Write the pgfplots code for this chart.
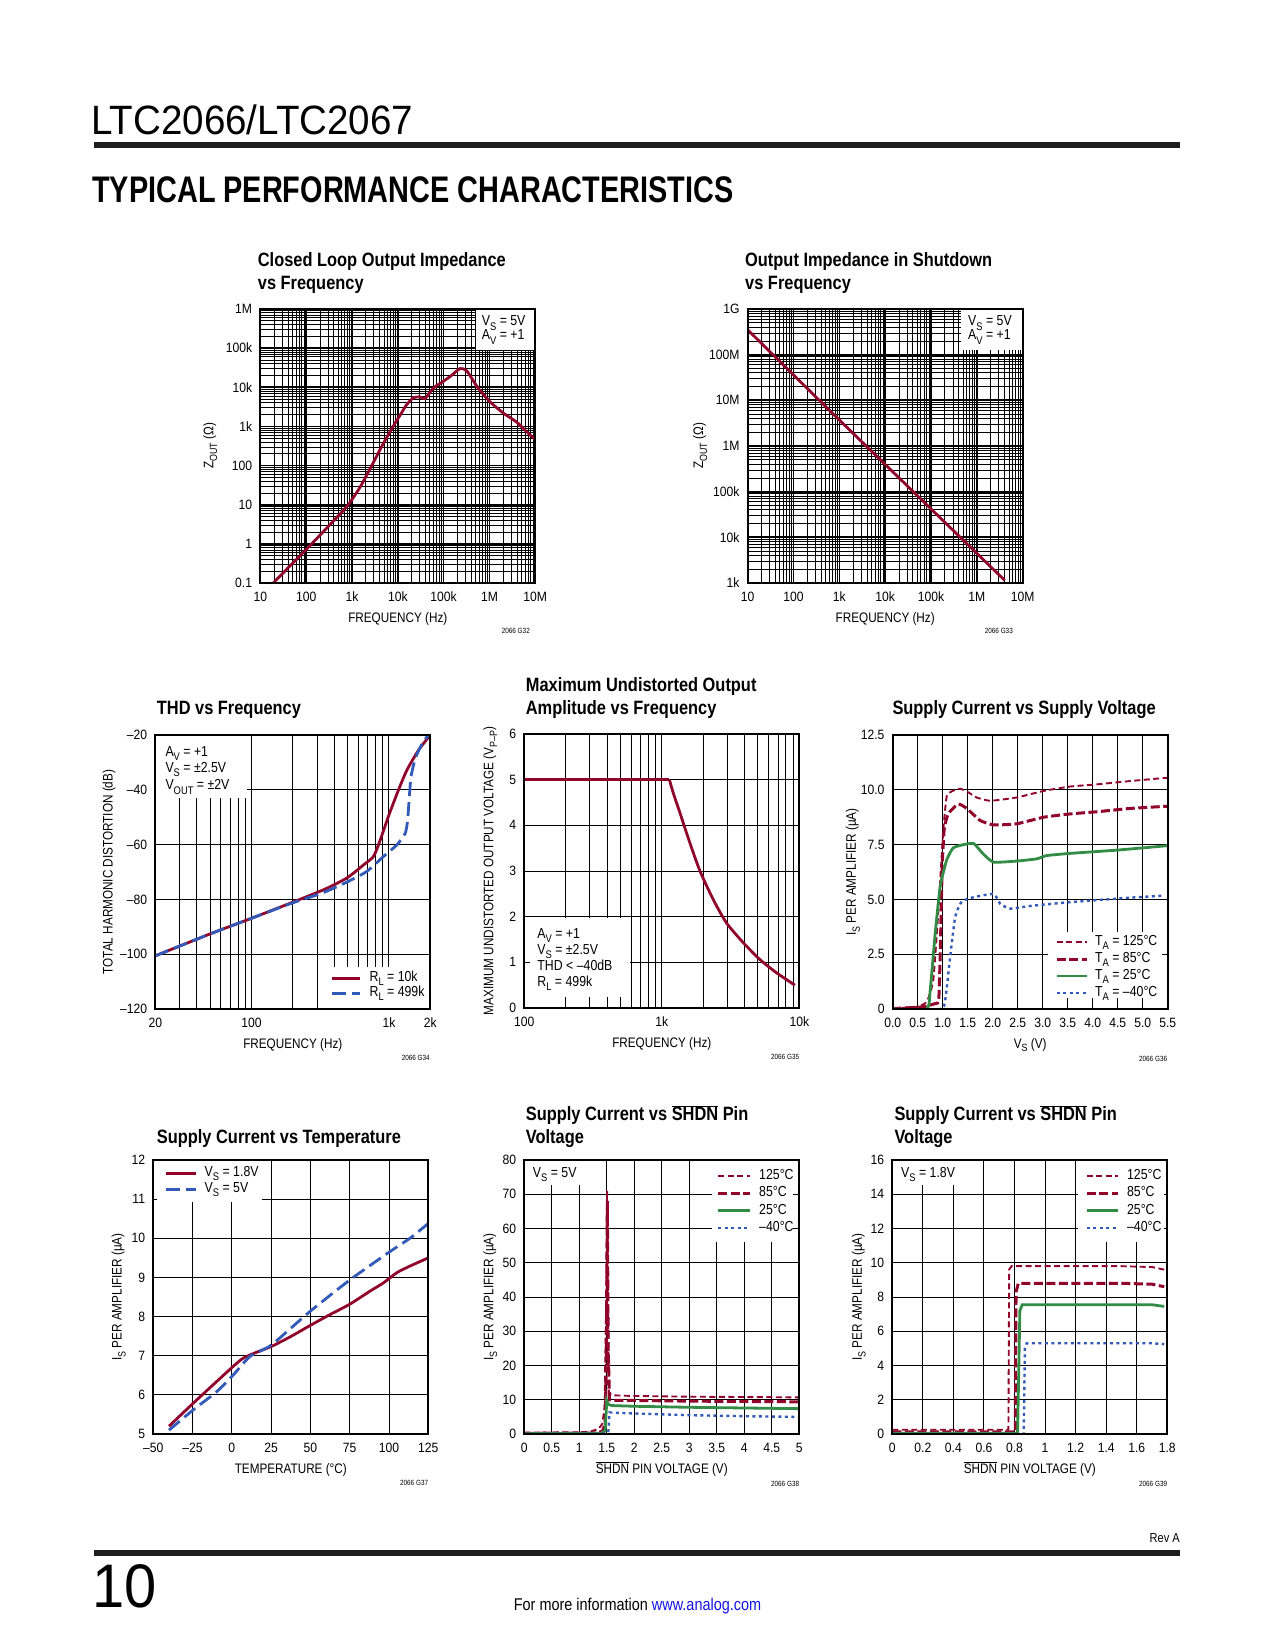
\documentclass[border=0pt]{standalone}
\usepackage{fontspec}
\setmainfont{Liberation Sans}[FakeStretch=0.85]
\newfontfamily\tickfont{Liberation Sans}[FakeStretch=0.9]
\newfontfamily\plainfont{Liberation Sans}[FakeStretch=0.94]
\newfontfamily\headfont{Liberation Sans}[FakeStretch=0.78]
\usepackage{pgfplots}
\pgfplotsset{compat=1.18}
\definecolor{dsred}{RGB}{145,5,45}
\definecolor{dsblue}{RGB}{50,90,185}
\definecolor{dsgreen}{RGB}{50,140,70}
\definecolor{dslink}{RGB}{20,20,230}
\newcommand\tickf{\tickfont\fontsize{13.5pt}{16pt}\selectfont}
\newcommand\labf{\fontsize{13.8pt}{16pt}\selectfont}
\newcommand\legf{\fontsize{14.5pt}{17pt}\selectfont}
\newcommand\titf{\bfseries\fontsize{19.3pt}{23pt}\selectfont}
\newcommand\notef{\fontsize{7.5pt}{9pt}\selectfont}
\newcommand\sub[1]{\raisebox{-0.28em}{\scalebox{0.76}{#1}}}
\newcommand\ovl[1]{$\overline{\mbox{#1}}$}
\tikzset{dsframe/.style={line width=1.8pt, black}}
\pgfplotsset{
  ds/.style={
    scale only axis, width=275pt, height=274pt, anchor=north west,
    axis line style={line width=1.8pt, black},
    major tick length=0pt, minor tick length=0pt,
    tick style={draw=none},
    grid=both,
    major grid style={line width=1pt, black},
    minor grid style={line width=1pt, black},
    clip mode=individual,
    xticklabel style={font=\tickf, anchor=base, inner sep=0pt, yshift=-18.5pt},
    yticklabel style={font=\tickf, anchor=east, inner sep=0pt, xshift=-8pt},
    xlabel style={font=\labf, at={(axis description cs:0.5,0)}, anchor=base, yshift=-39pt, inner sep=0pt},
    ylabel style={font=\labf, anchor=base, inner sep=0pt},
    legend style={draw=none, fill=none, inner sep=0pt, font=\legf, column sep=6pt,
      nodes={inner sep=0.9pt, text height=11pt, text depth=4pt}},
    legend cell align=left,
    legend image code/.code={\draw[##1] (0pt,0pt) -- (30pt,0pt);},
    /pgf/number format/assume math mode=true,
  },
  xdec/.style={minor xtick={2e1,3e1,4e1,5e1,6e1,7e1,8e1,9e1,2e2,3e2,4e2,5e2,6e2,7e2,8e2,9e2,2e3,3e3,4e3,5e3,6e3,7e3,8e3,9e3,2e4,3e4,4e4,5e4,6e4,7e4,8e4,9e4,2e5,3e5,4e5,5e5,6e5,7e5,8e5,9e5,2e6,3e6,4e6,5e6,6e6,7e6,8e6,9e6}},
  p125/.style={dsred, line width=1.9pt, dash pattern=on 6pt off 3.5pt},
  p85/.style={dsred, line width=3pt, dash pattern=on 9pt off 3.5pt},
  p25/.style={dsgreen, line width=2.8pt},
  pm40/.style={dsblue, line width=2.4pt, dash pattern=on 3pt off 3.5pt},
}
\begin{document}
\begin{tikzpicture}
\useasboundingbox (0pt,0pt) rectangle (1275pt,-1650pt);
\fill[white] (0pt,0pt) rectangle (1275pt,-1650pt);
% ---------- page header / footer ----------
\node[anchor=base west, inner sep=0pt, font=\plainfont\fontsize{41pt}{45pt}\selectfont] at (91pt,-134.7pt) {LTC2066/LTC2067};
\fill[black!88] (93.6pt,-141.5pt) rectangle (1180pt,-148pt);
\node[anchor=base west, inner sep=0pt, font=\headfont\bfseries\fontsize{37pt}{40pt}\selectfont] at (92pt,-202pt) {TYPICAL PERFORMANCE CHARACTERISTICS};
\node[anchor=base east, inner sep=0pt, font=\fontsize{13pt}{15pt}\selectfont] at (1180pt,-1542pt) {Rev A};
\fill[black!88] (93.6pt,-1549.5pt) rectangle (1180pt,-1556pt);
\node[anchor=base west, inner sep=0pt, font=\plainfont\fontsize{61.5pt}{64pt}\selectfont] at (92pt,-1607.5pt) {10};
\node[anchor=base, inner sep=0pt, font=\fontsize{17pt}{19pt}\selectfont] at (637.5pt,-1610pt) {For more information \textcolor{dslink}{www.analog.com}};
% ---------- titles ----------
\node[anchor=base west, inner sep=0pt, font=\titf] at (257.7pt,-266.7pt) {Closed Loop Output Impedance};
\node[anchor=base west, inner sep=0pt, font=\titf] at (257.7pt,-289pt) {vs Frequency};
\node[anchor=base west, inner sep=0pt, font=\titf] at (745pt,-266.7pt) {Output Impedance in Shutdown};
\node[anchor=base west, inner sep=0pt, font=\titf] at (745pt,-289pt) {vs Frequency};
\node[anchor=base west, inner sep=0pt, font=\titf] at (156.7pt,-714.3pt) {THD vs Frequency};
\node[anchor=base west, inner sep=0pt, font=\titf] at (525.7pt,-691.7pt) {Maximum Undistorted Output};
\node[anchor=base west, inner sep=0pt, font=\titf] at (525.7pt,-714pt) {Amplitude vs Frequency};
\node[anchor=base west, inner sep=0pt, font=\titf] at (892.3pt,-714.3pt) {Supply Current vs Supply Voltage};
\node[anchor=base west, inner sep=0pt, font=\titf] at (156.7pt,-1143.3pt) {Supply Current vs Temperature};
\node[anchor=base west, inner sep=0pt, font=\titf] at (525.7pt,-1120.7pt) {Supply Current vs \ovl{SHDN} Pin};
\node[anchor=base west, inner sep=0pt, font=\titf] at (525.7pt,-1143.3pt) {Voltage};
\node[anchor=base west, inner sep=0pt, font=\titf] at (894.3pt,-1120.7pt) {Supply Current vs \ovl{SHDN} Pin};
\node[anchor=base west, inner sep=0pt, font=\titf] at (894.3pt,-1143.3pt) {Voltage};
% ---------- notes ----------
\node[anchor=base east, inner sep=0pt, font=\notef] at (530pt,-633.3pt) {2066 G32};
\node[anchor=base east, inner sep=0pt, font=\notef] at (1013pt,-633.3pt) {2066 G33};
\node[anchor=base east, inner sep=0pt, font=\notef] at (430pt,-1060.7pt) {2066 G34};
\node[anchor=base east, inner sep=0pt, font=\notef] at (799.3pt,-1059pt) {2066 G35};
\node[anchor=base east, inner sep=0pt, font=\notef] at (1167.3pt,-1061pt) {2066 G36};
\node[anchor=base east, inner sep=0pt, font=\notef] at (428.3pt,-1485.7pt) {2066 G37};
\node[anchor=base east, inner sep=0pt, font=\notef] at (799.3pt,-1486pt) {2066 G38};
\node[anchor=base east, inner sep=0pt, font=\notef] at (1167.3pt,-1486pt) {2066 G39};

% ================= Chart 1 =================
\begin{axis}[ds, xdec, at={(260.3pt,-309pt)},
  xmode=log, ymode=log, xmin=10, xmax=1e7, ymin=0.1, ymax=1e6,
  xtick={1e1,1e2,1e3,1e4,1e5,1e6,1e7},
  xticklabels={10,100,1k,10k,100k,1M,10M},
  ytick={1e-1,1e0,1e1,1e2,1e3,1e4,1e5,1e6},
  yticklabels={0.1,1,10,100,1k,10k,100k,1M},
  minor ytick={2e-1,3e-1,4e-1,5e-1,6e-1,7e-1,8e-1,9e-1,2e0,3e0,4e0,5e0,6e0,7e0,8e0,9e0,2e1,3e1,4e1,5e1,6e1,7e1,8e1,9e1,2e2,3e2,4e2,5e2,6e2,7e2,8e2,9e2,2e3,3e3,4e3,5e3,6e3,7e3,8e3,9e3,2e4,3e4,4e4,5e4,6e4,7e4,8e4,9e4,2e5,3e5,4e5,5e5,6e5,7e5,8e5,9e5},
  major grid style={line width=1.7pt, black}, minor grid style={line width=0.75pt, black},
  xlabel={FREQUENCY (Hz)}, ylabel={Z\sub{OUT} (Ω)},
  ylabel style={at={(axis description cs:-0.171,0.5)}},
]
\fill[white] (rel axis cs:0.784,0.85) rectangle (rel axis cs:1,1);
\node[anchor=base west, inner sep=0pt, font=\legf] at (rel axis cs:0.805,0.938) {V\sub{S} = 5V};
\node[anchor=base west, inner sep=0pt, font=\legf] at (rel axis cs:0.805,0.887) {A\sub{V} = +1};
\addplot[dsred, line width=2.8pt, smooth, tension=0.4] coordinates {
 (19.2,0.1) (44,0.27) (132,1) (464,4.7) (832,10) (1500,28) (2700,100) (4600,330) (7900,1000)
 (12000,2200) (15600,3600) (21800,5400) (30000,5700) (39000,5100) (59000,9400) (97000,14000)
 (148000,20000) (227000,30000) (317000,26500) (550000,10000) (1.02e6,4300) (2e6,2200)
 (3.9e6,1300) (6e6,800) (9.7e6,470)};
\draw[dsframe] (rel axis cs:0,0) rectangle (rel axis cs:1,1);
\end{axis}

% ================= Chart 2 =================
\begin{axis}[ds, xdec, at={(747.7pt,-309pt)},
  xmode=log, ymode=log, xmin=10, xmax=1e7, ymin=1e3, ymax=1e9,
  xtick={1e1,1e2,1e3,1e4,1e5,1e6,1e7},
  xticklabels={10,100,1k,10k,100k,1M,10M},
  ytick={1e3,1e4,1e5,1e6,1e7,1e8,1e9},
  yticklabels={1k,10k,100k,1M,10M,100M,1G},
  minor ytick={2e3,3e3,4e3,5e3,6e3,7e3,8e3,9e3,2e4,3e4,4e4,5e4,6e4,7e4,8e4,9e4,2e5,3e5,4e5,5e5,6e5,7e5,8e5,9e5,2e6,3e6,4e6,5e6,6e6,7e6,8e6,9e6,2e7,3e7,4e7,5e7,6e7,7e7,8e7,9e7,2e8,3e8,4e8,5e8,6e8,7e8,8e8,9e8},
  major grid style={line width=1.7pt, black}, minor grid style={line width=0.75pt, black},
  xlabel={FREQUENCY (Hz)}, ylabel={Z\sub{OUT} (Ω)},
  ylabel style={at={(axis description cs:-0.1617,0.5)}},
]
\fill[white] (rel axis cs:0.777,0.85) rectangle (rel axis cs:1,1);
\node[anchor=base west, inner sep=0pt, font=\legf] at (rel axis cs:0.801,0.938) {V\sub{S} = 5V};
\node[anchor=base west, inner sep=0pt, font=\legf] at (rel axis cs:0.801,0.887) {A\sub{V} = +1};
\addplot[dsred, line width=2.8pt] coordinates {(10,3.5e8) (1000,3.7e6) (4.06e6,1.14e3)};
\draw[dsframe] (rel axis cs:0,0) rectangle (rel axis cs:1,1);
\end{axis}

% ================= Chart 3: THD =================
\begin{axis}[ds, at={(155.3pt,-735pt)},
  xmode=log, xmin=20, xmax=2000, ymin=-120, ymax=-20,
  xtick={20,100,1000,2000}, xticklabels={20,100,1k,2k},
  minor xtick={30,40,50,60,70,80,90,200,300,400,500,600,700,800,900},
  ytick={-120,-100,-80,-60,-40,-20}, yticklabels={–120,–100,–80,–60,–40,–20},
  xlabel={FREQUENCY (Hz)}, ylabel={TOTAL HARMONIC DISTORTION (dB)},
  ylabel style={at={(axis description cs:-0.155,0.5)}},
  legend style={at={(axis description cs:0.636,0.144)}, anchor=north west, row sep=-1.8pt, column sep=7.5pt},
  legend image code/.code={\draw[#1] (0pt,0pt) -- (28pt,0pt);},
]
\fill[white] (rel axis cs:0,0.769) rectangle (rel axis cs:0.3325,1);
\fill[white] (rel axis cs:0.636,0) rectangle (rel axis cs:1,0.1544);
\node[anchor=base west, inner sep=0pt, font=\legf] at (rel axis cs:0.0364,0.923) {A\sub{V} = +1};
\node[anchor=base west, inner sep=0pt, font=\legf] at (rel axis cs:0.0364,0.8626) {V\sub{S} = ±2.5V};
\node[anchor=base west, inner sep=0pt, font=\legf] at (rel axis cs:0.0364,0.7995) {V\sub{OUT} = ±2V};
\addplot[dsred, line width=2.8pt, smooth, tension=0.4] coordinates {
 (20,-100.6) (50,-92.6) (100,-86.9) (191,-81.4) (334,-76.5) (494,-72.2)
 (654,-67.4) (773,-64.3) (865,-58.3) (1000,-49.2) (1175,-40) (1352,-32.8) (1644,-25.5) (2000,-20)};
\addlegendentry{R\sub{L} = 10k}
\addplot[dsblue, line width=2.8pt, dash pattern=on 14pt off 6pt, smooth, tension=0.3] coordinates {
 (20,-100.6) (50,-92.6) (100,-86.9) (191,-81.6) (334,-77.5) (494,-73.7)
 (691,-69.8) (914,-64.3) (1143,-60.1) (1316,-55.8) (1369,-51) (1408,-42.5) (1447,-35.2)
 (1556,-28.5) (1747,-23) (1940,-20)};
\addlegendentry{R\sub{L} = 499k}
\draw[dsframe] (rel axis cs:0,0) rectangle (rel axis cs:1,1);
\end{axis}

% ================= Chart 4: Max undistorted =================
\begin{axis}[ds, at={(524.3pt,-734pt)},
  xmode=log, xmin=100, xmax=10000, ymin=0, ymax=6,
  xtick={100,1000,10000}, xticklabels={100,1k,10k},
  minor xtick={200,300,400,500,600,700,800,900,2000,3000,4000,5000,6000,7000,8000,9000},
  ytick={0,1,2,3,4,5,6}, yticklabels={0,1,2,3,4,5,6},
  xlabel={FREQUENCY (Hz)}, ylabel={MAXIMUM UNDISTORTED OUTPUT VOLTAGE (V\sub{P–P})},
  ylabel style={at={(axis description cs:-0.1127,0.5)}},
]
\fill[white] (rel axis cs:0.0206,0.0415) rectangle (rel axis cs:0.384,0.33);
\node[anchor=base west, inner sep=0pt, font=\legf] at (rel axis cs:0.047,0.2526) {A\sub{V} = +1};
\node[anchor=base west, inner sep=0pt, font=\legf] at (rel axis cs:0.047,0.1955) {V\sub{S} = ±2.5V};
\node[anchor=base west, inner sep=0pt, font=\legf] at (rel axis cs:0.047,0.1373) {THD < –40dB};
\node[anchor=base west, inner sep=0pt, font=\legf] at (rel axis cs:0.047,0.080) {R\sub{L} = 499k};
\addplot[dsred, line width=2.8pt] coordinates {(100,5) (1135,5)};
\addplot[dsred, line width=2.8pt, smooth, tension=0.4] coordinates {
 (1135,5) (1214,4.7) (1356,4.27) (1603,3.61) (1895,3.0) (2370,2.37) (2960,1.86) (3915,1.43)
 (5175,1.06) (6840,0.77) (9290,0.5)};
\draw[dsframe] (rel axis cs:0,0) rectangle (rel axis cs:1,1);
\end{axis}

% ================= Chart 5: Is vs Vs =================
\begin{axis}[ds, at={(892.7pt,-735pt)},
  xmin=0, xmax=5.5, ymin=0, ymax=12.5,
  xtick={0,0.5,1,1.5,2,2.5,3,3.5,4,4.5,5,5.5},
  xticklabels={0.0,0.5,1.0,1.5,2.0,2.5,3.0,3.5,4.0,4.5,5.0,5.5},
  ytick={0,2.5,5,7.5,10,12.5}, yticklabels={0,2.5,5.0,7.5,10.0,12.5},
  xlabel={V\sub{S} (V)}, ylabel={I\sub{S} PER AMPLIFIER (µA)},
  ylabel style={at={(axis description cs:-0.1336,0.5)}},
  legend style={at={(axis description cs:0.591,0.2745)}, anchor=north west, row sep=0pt, column sep=5.8pt},
]
\fill[white] (rel axis cs:0.5665,0.04) rectangle (rel axis cs:0.98,0.2825);
\addplot[p125, smooth, tension=0.3] coordinates {
 (0,0.03) (0.48,0.1) (0.68,0.33) (0.81,1.3) (0.91,4.35) (1.01,8.1) (1.08,9.7) (1.2,9.95) (1.35,10.05)
 (1.5,9.9) (1.68,9.65) (1.95,9.5) (2.48,9.65) (3.02,9.95) (3.55,10.15) (4.09,10.25) (4.75,10.4) (5.49,10.55)};
\addlegendentry{T\sub{A} = 125°C}
\addplot[p85, smooth, tension=0.3] coordinates {
 (0,0.02) (0.6,0.1) (0.85,0.25) (0.92,0.4) (0.95,2.5) (0.99,6.5) (1.03,8.2) (1.11,8.9) (1.31,9.35)
 (1.48,9.15) (1.75,8.6) (2.02,8.4) (2.48,8.45) (3.02,8.75) (3.55,8.9) (4.09,9.0) (4.75,9.15) (5.49,9.25)};
\addlegendentry{T\sub{A} = 85°C}
\addplot[p25, smooth, tension=0.3] coordinates {
 (0,0) (0.68,0) (0.75,0.87) (0.85,3.45) (0.95,5.6) (1.08,6.8) (1.21,7.35) (1.42,7.5) (1.62,7.55)
 (1.82,7.05) (2.02,6.7) (2.48,6.75) (2.88,6.85) (3.08,7.0) (3.55,7.1) (4.49,7.25) (5.49,7.45)};
\addlegendentry{T\sub{A} = 25°C}
\addplot[pm40, smooth, tension=0.3] coordinates {
 (0,0) (0.95,0) (1.05,0.4) (1.15,2.4) (1.25,4.2) (1.38,4.9) (1.62,5.1) (2.02,5.25) (2.15,4.8)
 (2.35,4.58) (2.75,4.7) (3.42,4.85) (4.09,4.97) (4.75,5.08) (5.42,5.17)};
\addlegendentry{T\sub{A} = –40°C}
\draw[dsframe] (rel axis cs:0,0) rectangle (rel axis cs:1,1);
\end{axis}

% ================= Chart 6: Is vs Temperature =================
\begin{axis}[ds, at={(153.3pt,-1160pt)},
  xmin=-50, xmax=125, ymin=5, ymax=12,
  xtick={-50,-25,0,25,50,75,100,125}, xticklabels={–50,–25,0,25,50,75,100,125},
  ytick={5,6,7,8,9,10,11,12}, yticklabels={5,6,7,8,9,10,11,12},
  xlabel={TEMPERATURE (°C)}, ylabel={I\sub{S} PER AMPLIFIER (µA)},
  ylabel style={at={(axis description cs:-0.115,0.5)}},
  legend style={at={(axis description cs:0.039,0.9825)}, anchor=north west, row sep=-0.8pt, column sep=6.8pt},
]
\fill[white] (rel axis cs:0.012,0.848) rectangle (rel axis cs:0.395,1);
\addplot[dsred, line width=2.8pt, smooth, tension=0.4] coordinates {
 (-40,5.2) (-24.5,5.79) (-9.7,6.34) (0.9,6.73) (7.3,6.94) (15.8,7.09) (25.3,7.24) (37,7.48) (49.7,7.77)
 (62.4,8.05) (75.2,8.32) (87.9,8.65) (96.4,8.86) (104.9,9.12) (113.3,9.29) (125,9.5)};
\addlegendentry{V\sub{S} = 1.8V}
\addplot[dsblue, line width=2.8pt, dash pattern=on 14pt off 6pt, smooth, tension=0.4] coordinates {
 (-40,5.1) (-24.5,5.62) (-9.7,6.08) (0.9,6.51) (11.5,6.98) (25.3,7.28) (49.7,8.13) (75.2,8.94)
 (100.6,9.66) (113.3,10.0) (125,10.38)};
\addlegendentry{V\sub{S} = 5V}
\draw[dsframe] (rel axis cs:0,0) rectangle (rel axis cs:1,1);
\end{axis}

% ================= Chart 7: SHDN, Vs=5V =================
\begin{axis}[ds, at={(524.3pt,-1160pt)},
  xmin=0, xmax=5, ymin=0, ymax=80,
  xtick={0,0.5,1,1.5,2,2.5,3,3.5,4,4.5,5}, xticklabels={0,0.5,1,1.5,2,2.5,3,3.5,4,4.5,5},
  ytick={0,10,20,30,40,50,60,70,80}, yticklabels={0,10,20,30,40,50,60,70,80},
  xlabel={\ovl{SHDN} PIN VOLTAGE (V)}, ylabel={I\sub{S} PER AMPLIFIER (µA)},
  ylabel style={at={(axis description cs:-0.1127,0.5)}},
  legend style={at={(axis description cs:0.6996,0.973)}, anchor=north west, row sep=0.5pt, column sep=6.8pt},
  legend image code/.code={\draw[#1] (0pt,0pt) -- (31.6pt,0pt);},
]
\fill[white] (rel axis cs:0,0.909) rectangle (rel axis cs:0.215,1);
\fill[white] (rel axis cs:0.681,0.702) rectangle (rel axis cs:0.978,1);
\node[anchor=base west, inner sep=0pt, font=\legf] at (rel axis cs:0.0306,0.9369) {V\sub{S} = 5V};
\addplot[p125] coordinates {
 (0,0.4) (1.0,0.5) (1.2,0.7) (1.35,1.5) (1.42,3) (1.46,8) (1.49,40) (1.505,71) (1.52,40) (1.54,12)
 (1.6,11.3) (2,11.1) (3,10.9) (4,10.8) (5,10.7)};
\addlegendentry{125°C}
\addplot[p85] coordinates {
 (0,0.2) (1.3,0.3) (1.42,0.8) (1.47,3) (1.49,20) (1.51,68) (1.525,25) (1.55,10) (1.6,9.8) (2,9.8)
 (3,9.6) (4,9.5) (5,9.4)};
\addlegendentry{85°C}
\addplot[p25] coordinates {
 (0,0.1) (1.4,0.2) (1.47,1) (1.5,9.8) (1.53,8.6) (1.6,8.3) (2,8.1) (3,7.8) (4,7.6) (5,7.4)};
\addlegendentry{25°C}
\addplot[pm40] coordinates {
 (0,0) (1.5,0.1) (1.53,1) (1.55,6.3) (2,6.0) (3,5.5) (4,5.2) (5,5.0)};
\addlegendentry{–40°C}
\draw[dsframe] (rel axis cs:0,0) rectangle (rel axis cs:1,1);
\end{axis}

% ================= Chart 8: SHDN, Vs=1.8V =================
\begin{axis}[ds, at={(892.3pt,-1160pt)},
  xmin=0, xmax=1.8, ymin=0, ymax=16,
  xtick={0,0.2,0.4,0.6,0.8,1,1.2,1.4,1.6,1.8}, xticklabels={0,0.2,0.4,0.6,0.8,1,1.2,1.4,1.6,1.8},
  ytick={0,2,4,6,8,10,12,14,16}, yticklabels={0,2,4,6,8,10,12,14,16},
  xlabel={\ovl{SHDN} PIN VOLTAGE (V)}, ylabel={I\sub{S} PER AMPLIFIER (µA)},
  ylabel style={at={(axis description cs:-0.111,0.5)}},
  legend style={at={(axis description cs:0.7007,0.973)}, anchor=north west, row sep=0.5pt, column sep=7pt},
  legend image code/.code={\draw[#1] (0pt,0pt) -- (31pt,0pt);},
]
\fill[white] (rel axis cs:0,0.909) rectangle (rel axis cs:0.24,1);
\fill[white] (rel axis cs:0.675,0.702) rectangle (rel axis cs:0.989,1);
\node[anchor=base west, inner sep=0pt, font=\legf] at (rel axis cs:0.0316,0.9369) {V\sub{S} = 1.8V};
\addplot[p125] coordinates {
 (0,0.25) (0.76,0.25) (0.765,9.6) (0.78,9.8) (1.0,9.8) (1.5,9.8) (1.7,9.75) (1.78,9.6)};
\addlegendentry{125°C}
\addplot[p85] coordinates {
 (0,0.12) (0.805,0.12) (0.81,8.3) (0.825,8.8) (1.0,8.8) (1.5,8.8) (1.7,8.75) (1.78,8.6)};
\addlegendentry{85°C}
\addplot[p25] coordinates {
 (0,0.05) (0.82,0.05) (0.835,7.2) (0.85,7.55) (1.2,7.55) (1.7,7.55) (1.78,7.45)};
\addlegendentry{25°C}
\addplot[pm40] coordinates {
 (0,0) (0.86,0) (0.868,5.0) (0.88,5.3) (1.2,5.3) (1.7,5.3) (1.78,5.25)};
\addlegendentry{–40°C}
\draw[dsframe] (rel axis cs:0,0) rectangle (rel axis cs:1,1);
\end{axis}
\end{tikzpicture}
\end{document}
